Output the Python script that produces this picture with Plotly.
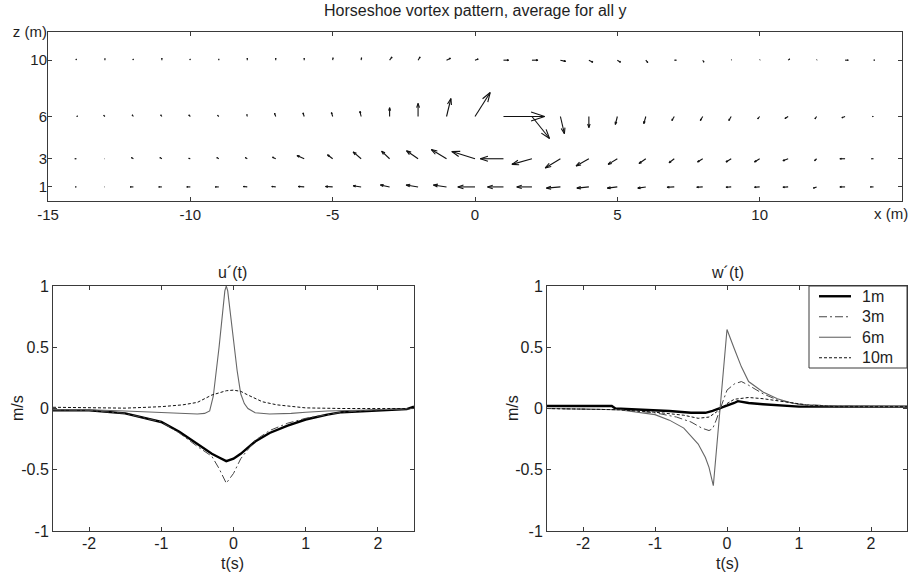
import plotly.graph_objects as go

W, H = 909, 575

# ---------------- quiver data (velocity components, m/s) ----------------
X_GRID = list(range(-14, 15))
Z_LEVELS = [1, 3, 6, 10]

U_Z10 = [-0.01, 0, -0.01, 0, -0.01, 0, 0, 0, 0, 0.01, 0.01, 0.06, 0.05, 0.10, 0.08,
         0.13, 0.15, 0.13, 0.10, 0.08, 0.05, 0.05, 0.03, 0.01, 0.01, 0.04, 0.01, 0.08, 0.03]
W_Z10 = [0.03, 0.04, 0.03, 0.05, 0.03, 0.03, 0.05, 0.05, 0.05, 0.06, 0.06, 0.08, 0.08, 0.05, 0.03,
         0, 0, -0.03, -0.05, -0.05, -0.06, 0, -0.05, 0.01, 0.01, 0.03, 0.01, 0, 0]

U_Z6 = [0.03, -0.03, -0.03, -0.03, -0.04, -0.03, -0.01, -0.03, -0.03, -0.03, -0.03, 0, 0, 0.11, 0.38,
        1.03, 0.44, 0.10, 0, -0.05, -0.05, -0.06, -0.06, -0.06, -0.05, -0.08, -0.04, -0.08, -0.03]
W_Z6 = [0.01, 0.03, 0.04, 0.04, 0.04, 0.03, 0.05, 0.08, 0.09, 0.10, 0.13, 0.22, 0.33, 0.45, 0.60,
        0, -0.55, -0.43, -0.28, -0.20, -0.18, -0.10, -0.10, -0.10, -0.06, -0.05, -0.06, -0.03, 0]

U_Z3 = [-0.04, -0.01, -0.05, -0.05, -0.04, -0.05, -0.05, -0.08, -0.18, -0.13, -0.20, -0.20, -0.29, -0.38, -0.58,
        -0.58, -0.50, -0.38, -0.32, -0.23, -0.17, -0.13, -0.13, -0.13, -0.13, -0.13, -0.05, -0.13, -0.05]
W_Z3 = [0, 0, 0.03, 0.03, 0.01, 0.03, 0.03, 0.04, 0.08, 0.10, 0.17, 0.19, 0.20, 0.23, 0.18,
        0, -0.14, -0.23, -0.18, -0.14, -0.12, -0.10, -0.08, -0.08, -0.08, -0.05, -0.05, 0, 0]

U_Z1 = [-0.03, -0.01, -0.08, -0.08, -0.09, -0.09, -0.10, -0.10, -0.15, -0.18, -0.20, -0.23, -0.30, -0.33, -0.43,
        -0.40, -0.38, -0.35, -0.30, -0.25, -0.20, -0.18, -0.15, -0.13, -0.13, -0.13, -0.08, -0.13, -0.08]
W_Z1 = [0, 0, 0, 0, 0, 0, 0.01, 0.01, 0.01, 0.01, 0.03, 0.05, 0.05, 0.05, 0,
        0, 0, -0.03, -0.03, -0.03, -0.03, -0.01, -0.01, -0.01, -0.01, -0.01, -0.03, 0, 0]

QUIVER_U = {1: U_Z1, 3: U_Z3, 6: U_Z6, 10: U_Z10}
QUIVER_W = {1: W_Z1, 3: W_Z3, 6: W_Z6, 10: W_Z10}

# ---------------- time series data ----------------
U1_T = [-2.5, -2.0, -1.5, -1.3, -1.0, -0.75, -0.5, -0.3, -0.2, -0.1, 0, 0.1, 0.2, 0.3, 0.5, 0.75, 1.0, 1.3, 1.5, 2.0, 2.4, 2.5]
U1_V = [-0.014, -0.015, -0.04, -0.07, -0.11, -0.19, -0.29, -0.37, -0.40, -0.43, -0.41, -0.37, -0.32, -0.27, -0.20, -0.14, -0.09, -0.05, -0.03, -0.014, -0.005, 0.015]

U3_T = [-2.5, -2.0, -1.5, -1.0, -0.75, -0.5, -0.3, -0.2, -0.1, 0, 0.1, 0.3, 0.5, 0.75, 1.0, 1.5, 2.0, 2.5]
U3_V = [-0.01, -0.015, -0.04, -0.11, -0.20, -0.31, -0.39, -0.49, -0.61, -0.53, -0.41, -0.26, -0.18, -0.12, -0.08, -0.03, -0.01, 0.0]

U6_T = [-2.5, -2.0, -1.5, -1.0, -0.7, -0.5, -0.4, -0.33, -0.28, -0.2, -0.12, -0.1, -0.08, 0.0, 0.05, 0.1, 0.15, 0.2, 0.3, 0.5, 0.8, 1.0, 1.3, 2.0, 2.5]
U6_V = [-0.01, -0.01, -0.02, -0.03, -0.04, -0.045, -0.04, -0.02, 0.10, 0.50, 0.96, 1.0, 0.96, 0.55, 0.31, 0.12, 0.04, 0.0, -0.035, -0.045, -0.04, -0.03, -0.02, -0.01, 0.0]

U10_T = [-2.5, -2.0, -1.5, -1.2, -1.0, -0.7, -0.5, -0.3, -0.1, 0.0, 0.1, 0.2, 0.4, 0.6, 0.8, 1.0, 1.5, 2.0, 2.5]
U10_V = [0.01, 0.005, 0.003, 0.01, 0.015, 0.03, 0.05, 0.11, 0.145, 0.15, 0.14, 0.11, 0.055, 0.03, 0.015, 0.005, 0.0, 0.0, 0.0]

W1_T = [-2.5, -1.6, -1.55, -1.1, -0.8, -0.5, -0.3, -0.2, -0.1, 0, 0.1, 0.15, 0.3, 0.5, 0.8, 1.0, 1.5, 2.5]
W1_V = [0.02, 0.02, 0.0, -0.01, -0.02, -0.035, -0.035, -0.02, 0.0, 0.02, 0.045, 0.06, 0.045, 0.035, 0.02, 0.015, 0.015, 0.015]

W3_T = [-2.5, -1.5, -1.0, -0.7, -0.5, -0.35, -0.25, -0.2, -0.15, -0.1, -0.05, 0, 0.1, 0.2, 0.3, 0.5, 0.7, 1.0, 1.5, 2.5]
W3_V = [0.0, -0.01, -0.035, -0.07, -0.11, -0.16, -0.18, -0.165, -0.095, -0.015, 0.07, 0.15, 0.20, 0.22, 0.19, 0.12, 0.07, 0.035, 0.02, 0.015]

W6_T = [-2.5, -1.5, -1.0, -0.8, -0.6, -0.4, -0.3, -0.25, -0.19, 0.0, 0.1, 0.2, 0.3, 0.5, 0.7, 0.9, 1.1, 1.5, 2.5]
W6_V = [0.0, -0.01, -0.05, -0.095, -0.16, -0.29, -0.40, -0.48, -0.63, 0.645, 0.49, 0.34, 0.22, 0.135, 0.08, 0.045, 0.025, 0.02, 0.015]

W10_T = [-2.5, -1.5, -1.0, -0.6, -0.4, -0.25, -0.15, -0.1, 0, 0.1, 0.3, 0.5, 0.8, 1.1, 1.5, 2.5]
W10_V = [0.0, -0.01, -0.03, -0.055, -0.08, -0.07, -0.03, -0.005, 0.04, 0.075, 0.09, 0.08, 0.055, 0.03, 0.015, 0.015]

SERIES_NAMES = ["1m", "3m", "6m", "10m"]

# ---------------- layout geometry (pixels) ----------------
TOP_BOX = (48, 902, 32, 201)      # left, right, top, bottom
BL_BOX = (53, 414, 286, 531)
BR_BOX = (547, 907, 286, 531)
LEG_BOX = (809, 907, 286, 368)
X_RANGE_TOP = [-15, 15]
Z_RANGE_TOP = [0, 12]


def xdom(b):
    return [b[0] / W, b[1] / W]


def ydom(b):
    return [1 - b[3] / H, 1 - b[2] / H]


FONT = "Liberation Sans, Arial, sans-serif"
TXT = "#1e1e1e"
AX = "#3a3a3a"

fig = go.Figure()

# ---------------- quiver (MATLAB-like arrows) ----------------
QS = 40.0  # pixels per m/s
px_x = (TOP_BOX[1] - TOP_BOX[0]) / (X_RANGE_TOP[1] - X_RANGE_TOP[0])
px_z = (TOP_BOX[3] - TOP_BOX[2]) / (Z_RANGE_TOP[1] - Z_RANGE_TOP[0])
alpha, beta = 0.33, 0.33
qx, qy = [], []
for z in Z_LEVELS:
    for x, u, w in zip(X_GRID, QUIVER_U[z], QUIVER_W[z]):
        du, dw = u * QS, w * QS  # pixel displacement
        qx += [x, x + du / px_x, None]
        qy += [z, z + dw / px_z, None]
        h1x = du - alpha * (du + beta * dw)
        h1z = dw - alpha * (dw - beta * du)
        h2x = du - alpha * (du - beta * dw)
        h2z = dw - alpha * (dw + beta * du)
        qx += [x + h1x / px_x, x + du / px_x, x + h2x / px_x, None]
        qy += [z + h1z / px_z, z + dw / px_z, z + h2z / px_z, None]

fig.add_trace(go.Scatter(x=qx, y=qy, mode="lines", line=dict(color="#111111", width=1.1),
                         showlegend=False, hoverinfo="skip", xaxis="x", yaxis="y"))

# ---------------- time series ----------------
styles = [
    dict(color="#000000", width=2.4, dash="solid"),
    dict(color="#444444", width=1, dash="8px,3px,2px,3px"),
    dict(color="#666666", width=1.1, dash="solid"),
    dict(color="#111111", width=1, dash="3px,2px"),
]
u_series = [(U1_T, U1_V), (U3_T, U3_V), (U6_T, U6_V), (U10_T, U10_V)]
w_series = [(W1_T, W1_V), (W3_T, W3_V), (W6_T, W6_V), (W10_T, W10_V)]
for name, st, (t, v) in zip(SERIES_NAMES, styles, u_series):
    fig.add_trace(go.Scatter(x=t, y=v, mode="lines", line=st, name=name, showlegend=False,
                             xaxis="x2", yaxis="y2"))
for name, st, (t, v) in zip(SERIES_NAMES, styles, w_series):
    fig.add_trace(go.Scatter(x=t, y=v, mode="lines", line=st, name=name, showlegend=False,
                             xaxis="x3", yaxis="y3"))

axis_common = dict(showline=True, linecolor=AX, linewidth=1, mirror="ticks", ticks="inside",
                   ticklen=4, tickcolor=AX, showgrid=False, zeroline=False, fixedrange=True,
                   automargin=False)

fig.update_layout(
    width=W, height=H, margin=dict(l=0, r=0, t=0, b=0, pad=0, autoexpand=False),
    paper_bgcolor="white", plot_bgcolor="white",
    font=dict(family=FONT, color=TXT, size=16),
    xaxis=dict(domain=xdom(TOP_BOX), anchor="y", range=X_RANGE_TOP,
               tickvals=[-15, -10, -5, 0, 5, 10, 15],
               ticktext=["-15", "-10", "-5", "0", "5", "10", ""],
               tickfont=dict(size=15, color=TXT), ticklabelstandoff=0, **axis_common),
    yaxis=dict(domain=ydom(TOP_BOX), anchor="x", range=Z_RANGE_TOP,
               tickvals=[1, 3, 6, 10, 12], ticktext=["1", "3", "6", "10", "z (m)"],
               tickfont=dict(size=15, color=TXT), ticklabelstandoff=-3, **axis_common),
    xaxis2=dict(domain=xdom(BL_BOX), anchor="y2", range=[-2.5, 2.5],
                tickvals=[-2, -1, 0, 1, 2], ticktext=["-2", "-1", "0", "1", "2"],
                tickfont=dict(size=16, color=TXT), ticklabelstandoff=-2, **axis_common),
    yaxis2=dict(domain=ydom(BL_BOX), anchor="x2", range=[-1, 1],
                tickvals=[-1, -0.5, 0, 0.5, 1], ticktext=["-1", "-0.5", "0", "0.5", "1"],
                tickfont=dict(size=16, color=TXT), **axis_common),
    xaxis3=dict(domain=xdom(BR_BOX), anchor="y3", range=[-2.5, 2.5],
                tickvals=[-2, -1, 0, 1, 2], ticktext=["-2", "-1", "0", "1", "2"],
                tickfont=dict(size=16, color=TXT), ticklabelstandoff=-2, **axis_common),
    yaxis3=dict(domain=ydom(BR_BOX), anchor="x3", range=[-1, 1],
                tickvals=[-1, -0.5, 0, 0.5, 1], ticktext=["-1", "-0.5", "0", "0.5", "1"],
                tickfont=dict(size=16, color=TXT), **axis_common),
    showlegend=False,
)


def px2paper(xpx, ypx):
    return xpx / W, 1 - ypx / H


def ann(text, xpx, ypx, size=16, angle=0, xanchor="center"):
    x, y = px2paper(xpx, ypx)
    fig.add_annotation(text=text, x=x, y=y, xref="paper", yref="paper",
                       showarrow=False, font=dict(size=size, family=FONT, color=TXT),
                       textangle=angle, xanchor=xanchor, yanchor="middle")


ann("Horseshoe vortex pattern, average for all y", 475, 11, size=16)
ann("x (m)", 891, 213, size=15)
ann("u\u00b4(t)", 232, 272)
ann("w\u00b4(t)", 727, 272)
ann("t(s)", 232, 563)
ann("t(s)", 727, 563)
ann("m/s", 18, 408, angle=-90)
ann("m/s", 513, 408, angle=-90)

# ---------------- legend (box, sample lines, labels) ----------------
x0, y0 = px2paper(LEG_BOX[0], LEG_BOX[2])
x1, y1 = px2paper(LEG_BOX[1], LEG_BOX[3])
fig.add_shape(type="rect", xref="paper", yref="paper", x0=x0, x1=x1, y0=y1, y1=y0,
              line=dict(color=AX, width=1), fillcolor="white", layer="above")
row_step = (LEG_BOX[3] - LEG_BOX[2]) / len(SERIES_NAMES)
for i, (name, st) in enumerate(zip(SERIES_NAMES, styles)):
    ypx = LEG_BOX[2] + row_step * (i + 0.5)
    lx0, ly = px2paper(LEG_BOX[0] + 10, ypx)
    lx1, _ = px2paper(LEG_BOX[0] + 42, ypx)
    fig.add_shape(type="line", xref="paper", yref="paper", x0=lx0, x1=lx1, y0=ly, y1=ly,
                  line=dict(color=st["color"], width=st["width"], dash=st["dash"]), layer="above")
    ann(name, LEG_BOX[0] + 51, ypx, xanchor="left")

fig.write_html("out.html")
